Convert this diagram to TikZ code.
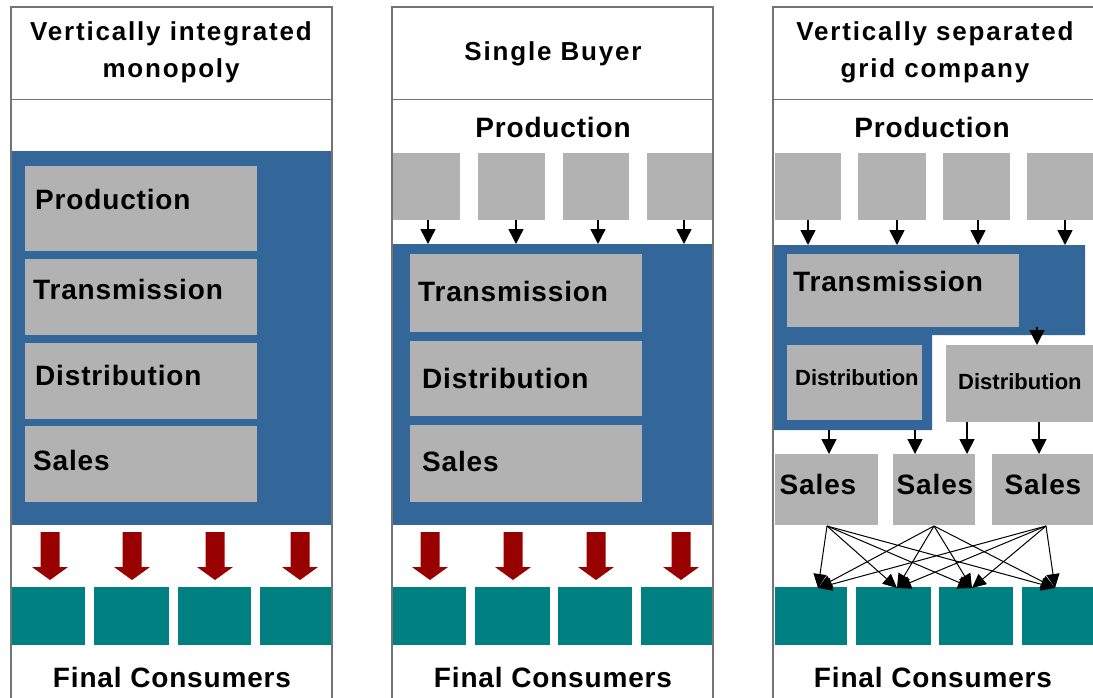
\documentclass[tikz,border=0pt]{standalone}
\usepackage{fontspec}
\setmainfont{Liberation Sans}
\newfontfamily\headfont[LetterSpace=7]{Liberation Sans}
\newfontfamily\labelfont[LetterSpace=3]{Liberation Sans}
\usetikzlibrary{arrows.meta}
\definecolor{panelblue}{HTML}{336699}
\definecolor{boxgray}{HTML}{B2B2B2}
\definecolor{consumerteal}{HTML}{008080}
\definecolor{flowred}{HTML}{990000}
\definecolor{frame}{HTML}{747474}
\begin{document}
\begin{tikzpicture}[x=1pt,y=-1pt,
  block/.style={fill=boxgray,draw=none,inner sep=0pt,outer sep=0pt,anchor=north west},
  consumer/.style={fill=consumerteal,draw=none,inner sep=0pt,outer sep=0pt,anchor=north west,minimum height=58pt},
  region/.style={fill=panelblue,draw=none,inner sep=0pt,outer sep=0pt,anchor=north west},
  title/.style={font=\headfont\bfseries\fontsize{26}{37}\selectfont,align=center,inner sep=0pt},
  heading/.style={font=\labelfont\bfseries\fontsize{28}{30}\selectfont,inner sep=0pt,anchor=base},
  boxtext/.style={font=\labelfont\bfseries\fontsize{28}{30}\selectfont,inner sep=0pt,anchor=base west},
  smalltext/.style={font=\bfseries\fontsize{22}{24}\selectfont,inner sep=0pt,anchor=base west},
  feed/.style={line width=1.5pt,-{Triangle[width={15pt 0 0},length={15pt 0 0}]}},
  supply/.style={line width=1pt,-{Triangle[width={13pt 0 0},length={14pt 0 0}]}},
  frameline/.style={draw=frame,line width=2pt},
  redarrow/.pic={\fill[flowred] (-9.5,0) -- (9.5,0) -- (9.5,35) -- (18,35) -- (0,48) -- (-18,35) -- (-9.5,35) -- cycle;}
]
\useasboundingbox (0,0) rectangle (1093,697);
\clip (0,0) rectangle (1093,697);

% ---------------- Vertically integrated monopoly ----------------
\node[region,minimum width=321pt,minimum height=374pt] (m-comp) at (11,151) {};
\node[block,minimum width=232pt,minimum height=85pt] (m-prod) at (25,166) {};
\node[block,minimum width=232pt,minimum height=76pt] (m-trans) at (25,259) {};
\node[block,minimum width=232pt,minimum height=76pt] (m-dist) at (25,343) {};
\node[block,minimum width=232pt,minimum height=76pt] (m-sales) at (25,426) {};
\node[boxtext] (m-prod-t) at (35,209) {Production};
\node[boxtext] (m-trans-t) at (33,299) {Transmission};
\node[boxtext] (m-dist-t) at (35,385) {Distribution};
\node[boxtext] (m-sales-t) at (33,470) {Sales};
\foreach \x in {50,132,215,300} \pic at (\x,532) {redarrow};
\node[consumer,minimum width=73pt] (m-c1) at (12,587) {};
\node[consumer,minimum width=75pt] (m-c2) at (94,587) {};
\node[consumer,minimum width=73pt] (m-c3) at (178,587) {};
\node[consumer,minimum width=72pt] (m-c4) at (260,587) {};
\node[title] (m-title) at (171,52) {Vertically integrated\\monopoly};
\node[heading] (m-final) at (172,687) {Final Consumers};
\draw[draw=frame,line width=1pt] (11,99) -- (332,99);
\draw[frameline] (11,710) -- (11,7) -- (332,7) -- (332,710);

% ---------------- Single buyer ----------------
\node[region,minimum width=320pt,minimum height=281pt] (b-comp) at (393,244) {};
\node[block,minimum width=67pt,minimum height=67pt] (b-p1) at (393,153) {};
\node[block,minimum width=67pt,minimum height=67pt] (b-p2) at (478,153) {};
\node[block,minimum width=66pt,minimum height=67pt] (b-p3) at (563,153) {};
\node[block,minimum width=66pt,minimum height=67pt] (b-p4) at (647,153) {};
\foreach \i/\x in {1/428,2/516,3/598,4/684}
  \draw[feed] (b-p\i.south -| \x,0) -- (b-comp.north -| \x,0);
\node[block,minimum width=232pt,minimum height=78pt] (b-trans) at (410,254) {};
\node[block,minimum width=232pt,minimum height=75pt] (b-dist) at (410,341) {};
\node[block,minimum width=232pt,minimum height=77pt] (b-sales) at (410,425) {};
\node[boxtext] (b-trans-t) at (418,301) {Transmission};
\node[boxtext] (b-dist-t) at (422,388) {Distribution};
\node[boxtext] (b-sales-t) at (422,471) {Sales};
\foreach \x in {430,513,596,681} \pic at (\x,532) {redarrow};
\node[consumer,minimum width=73pt] (b-c1) at (393,587) {};
\node[consumer,minimum width=75pt] (b-c2) at (475,587) {};
\node[consumer,minimum width=74pt] (b-c3) at (558,587) {};
\node[consumer,minimum width=72pt] (b-c4) at (641,587) {};
\node[title,anchor=base] (b-title) at (553,60) {Single Buyer};
\node[heading] (b-prodhead) at (553,137) {Production};
\node[heading] (b-final) at (553,687) {Final Consumers};
\draw[draw=frame,line width=1pt] (392,99) -- (713,99);
\draw[frameline] (392,710) -- (392,7) -- (713,7) -- (713,710);

% ---------------- Vertically separated grid company ----------------
\fill[panelblue] (773,245) -- (1085,245) -- (1085,335) -- (932,335) -- (932,430) -- (773,430) -- cycle;
\coordinate (g-grid) at (773,245);
\coordinate (g-gridout) at (1037,327);
\coordinate (g-ownout) at (0,430);
\node[block,minimum width=66pt,minimum height=67pt] (g-p1) at (775,153) {};
\node[block,minimum width=68pt,minimum height=67pt] (g-p2) at (858,153) {};
\node[block,minimum width=67pt,minimum height=67pt] (g-p3) at (943,153) {};
\node[block,minimum width=73pt,minimum height=67pt] (g-p4) at (1027,153) {};
\foreach \i/\x in {1/808,2/897,3/978,4/1065}
  \draw[feed] (g-p\i.south -| \x,0) -- (g-grid -| \x,0);
\node[block,minimum width=232pt,minimum height=73pt] (g-trans) at (787,254) {};
\node[block,minimum width=135pt,minimum height=75pt] (g-dist1) at (787,345) {};
\node[block,minimum width=154pt,minimum height=77pt] (g-dist2) at (946,345) {};
\node[boxtext] (g-trans-t) at (793,291) {Transmission};
\node[smalltext] (g-dist1-t) at (795,385) {Distribution};
\node[smalltext] (g-dist2-t) at (958,389) {Distribution};
\draw[feed] (g-gridout) -- (g-dist2.north -| g-gridout);
\node[block,minimum width=103pt,minimum height=71pt] (g-s1) at (775,454) {};
\node[block,minimum width=82pt,minimum height=71pt] (g-s2) at (893,454) {};
\node[block,minimum width=108pt,minimum height=71pt] (g-s3) at (992,454) {};
\node[heading] (g-s1-t) at (818,494) {Sales};
\node[heading] (g-s2-t) at (935,494) {Sales};
\node[heading] (g-s3-t) at (1043,494) {Sales};
\draw[feed] (g-ownout -| 829,0) -- (g-s1.north -| 829,0);
\draw[feed] (g-ownout -| 915,0) -- (g-s2.north -| 915,0);
\draw[feed] (g-dist2.south -| 967,0) -- (g-s2.north -| 967,0);
\draw[feed] (g-dist2.south -| 1039,0) -- (g-s3.north -| 1039,0);
\node[consumer,minimum width=72pt] (g-c1) at (775,587) {};
\node[consumer,minimum width=75pt] (g-c2) at (856,587) {};
\node[consumer,minimum width=74pt] (g-c3) at (939,587) {};
\node[consumer,minimum width=78pt] (g-c4) at (1022,587) {};
\coordinate (g-o1) at (827,526);
\coordinate (g-o2) at (934,526);
\coordinate (g-o3) at (1046,526);
\coordinate (g-i1) at (818,588);
\coordinate (g-i2) at (897,588);
\coordinate (g-i3) at (972,588);
\coordinate (g-i4) at (1055,588);
\foreach \s in {1,2,3}
  \foreach \t in {1,2,3,4}
    \draw[supply] (g-o\s) -- (g-i\t);
\node[title] (g-title) at (935,52) {Vertically separated\\grid company};
\node[heading] (g-prodhead) at (932,137) {Production};
\node[heading] (g-final) at (933,687) {Final Consumers};
\draw[draw=frame,line width=1pt] (773,99) -- (1100,99);
\draw[frameline] (773,710) -- (773,7) -- (1100,7);
\end{tikzpicture}
\end{document}
